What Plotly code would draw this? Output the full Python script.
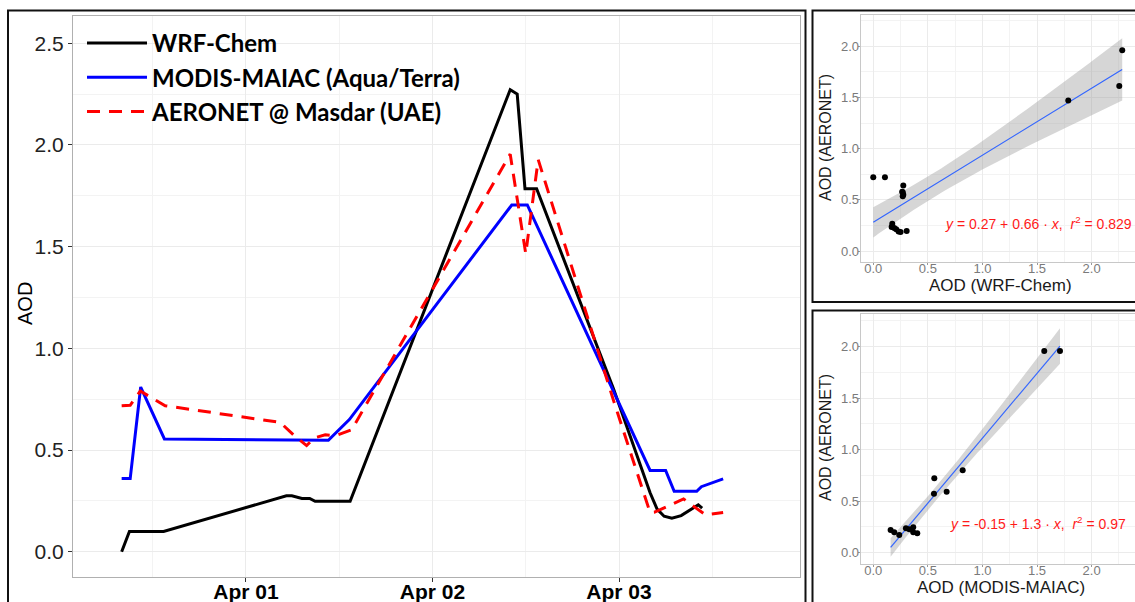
import numpy as np
import pandas as pd
import plotly.graph_objects as go

# ---------------- data ----------------
BASE = pd.Timestamp("2015-03-31 00:00")

wrf_hours = [8.0, 9.0, 13.4, 29.2, 29.9, 31.2, 32.2, 32.9, 37.4, 58.0, 58.9, 59.9, 61.4,
             71.3, 76.0, 76.9, 77.8, 78.8, 80.0, 82.2, 82.7]
wrf_aod = [0.0, 0.10, 0.10, 0.275, 0.275, 0.262, 0.262, 0.248, 0.248, 2.272, 2.250, 1.785, 1.785,
           0.80, 0.29, 0.21, 0.175, 0.165, 0.178, 0.231, 0.215]

modis_hours = [8.0, 9.1, 10.45, 13.5, 34.6, 37.3, 58.2, 60.2, 76.0, 78.0, 79.1, 82.0, 82.6, 85.4]
modis_aod = [0.36, 0.36, 0.81, 0.555, 0.548, 0.65, 1.705, 1.705, 0.40, 0.40, 0.297, 0.297, 0.32, 0.358]

aeronet_hours = [8.0, 9.1, 10.4, 13.6, 28.4, 30.1, 31.8, 32.8, 34.2, 35.5, 37.6, 58.0, 60.0, 61.6,
                 71.3, 76.0, 76.6, 80.3, 83.1, 85.4]
aeronet_aod = [0.718, 0.72, 0.79, 0.718, 0.636, 0.575, 0.522, 0.56, 0.575, 0.57, 0.60, 1.955, 1.465, 1.928,
               0.743, 0.193, 0.195, 0.26, 0.182, 0.193]

day_ticks = ["2015-04-01", "2015-04-02", "2015-04-03"]
day_labels = ["Apr 01", "Apr 02", "Apr 03"]

series_names = ["WRF-Chem", "MODIS-MAIAC (Aqua/Terra)", "AERONET @ Masdar (UAE)"]

# scatter 1: WRF-Chem (x) vs AERONET (y)
sc1_wrf = [0.0, 0.107, 0.275, 0.265, 0.27, 0.275, 0.27, 0.174, 0.168, 0.192, 0.21, 0.232, 0.25, 0.306,
           1.786, 2.253, 2.28]
sc1_aeronet = [0.72, 0.72, 0.64, 0.58, 0.575, 0.55, 0.535, 0.267, 0.234, 0.225, 0.212, 0.192, 0.186, 0.195,
               1.471, 1.611, 1.96]

# scatter 2: MODIS-MAIAC (x) vs AERONET (y)
sc2_modis = [0.159, 0.192, 0.238, 0.299, 0.33, 0.366, 0.366, 0.403, 0.556, 0.559, 0.672, 0.819, 1.566, 1.71]
sc2_aeronet = [0.22, 0.198, 0.172, 0.237, 0.227, 0.246, 0.198, 0.188, 0.573, 0.722, 0.592, 0.80, 1.958, 1.958]

eq1 = "<i>y</i> = 0.27 + 0.66 · <i>x</i>,  <i>r</i><sup>2</sup> = 0.829"
eq2 = "<i>y</i> = -0.15 + 1.3 · <i>x</i>,  <i>r</i><sup>2</sup> = 0.97"

# Student t 97.5% quantiles for the 95% confidence band (df = n - 2)
T975 = {12: 2.179, 15: 2.131}

# ---------------- helpers ----------------
W, H = 1135, 602


def px(x):
    return x / W


def py(y):
    return 1 - y / H


def lm_band(x, y, n=100):
    x = np.asarray(x, float)
    y = np.asarray(y, float)
    slope, icpt = np.polyfit(x, y, 1)
    xs = np.linspace(x.min(), x.max(), n)
    fit = icpt + slope * xs
    resid = y - (icpt + slope * x)
    df = len(x) - 2
    s = np.sqrt(np.sum(resid ** 2) / df)
    sxx = np.sum((x - x.mean()) ** 2)
    hw = T975[df] * s * np.sqrt(1 / len(x) + (xs - x.mean()) ** 2 / sxx)
    return xs, fit, fit - hw, fit + hw


def to_time(hours):
    return BASE + pd.to_timedelta(hours, unit="h")


fig = go.Figure()

# ---------------- main time series ----------------
fig.add_trace(go.Scatter(x=to_time(wrf_hours), y=wrf_aod, mode="lines", name=series_names[0],
                         line=dict(color="black", width=3), xaxis="x", yaxis="y"))
fig.add_trace(go.Scatter(x=to_time(modis_hours), y=modis_aod, mode="lines", name=series_names[1],
                         line=dict(color="#0000ff", width=3), xaxis="x", yaxis="y"))
fig.add_trace(go.Scatter(x=to_time(aeronet_hours), y=aeronet_aod, mode="lines", name=series_names[2],
                         line=dict(color="#ff0000", width=3, dash="13px,9px"), xaxis="x", yaxis="y"))

# ---------------- scatter panels ----------------
for xs_data, ys_data, xa, ya in [(sc1_wrf, sc1_aeronet, "x2", "y2"), (sc2_modis, sc2_aeronet, "x3", "y3")]:
    bx, bfit, blo, bhi = lm_band(xs_data, ys_data)
    fig.add_trace(go.Scatter(x=np.concatenate([bx, bx[::-1]]), y=np.concatenate([bhi, blo[::-1]]),
                             fill="toself", fillcolor="rgba(153,153,153,0.4)", line=dict(width=0),
                             mode="lines", showlegend=False, hoverinfo="skip", xaxis=xa, yaxis=ya))
    fig.add_trace(go.Scatter(x=bx, y=bfit, mode="lines", line=dict(color="#3366ff", width=1.2),
                             showlegend=False, xaxis=xa, yaxis=ya))
    fig.add_trace(go.Scatter(x=xs_data, y=ys_data, mode="markers",
                             marker=dict(color="black", size=6), showlegend=False, xaxis=xa, yaxis=ya))

# ---------------- layout ----------------
FONT = "Liberation Sans, Arial, sans-serif"
GRID = "#ebebeb"
MINOR = "#f3f3f3"
FRAME = "#b0b0b0"

main_x = dict(
    domain=[px(73), px(800)], anchor="y", type="date", automargin=False,
    range=[to_time(1.74), to_time(95.29)],
    tickmode="array", tickvals=[pd.Timestamp(d) for d in day_ticks], ticktext=day_labels,
    tickfont=dict(family=FONT, size=21, color="black", weight="bold"),
    ticklabelstandoff=-8,
    showgrid=True, gridcolor=GRID, gridwidth=1.3,
    minor=dict(dtick=43200000, tick0="2015-03-31 12:00", showgrid=True, gridcolor=MINOR, gridwidth=1),
    ticks="outside", ticklen=4, tickcolor="#333333",
    showline=True, mirror=True, linecolor=FRAME, linewidth=1, zeroline=False,
)
main_y = dict(
    domain=[py(577), py(16)], anchor="x", range=[-0.124, 2.634], automargin=False,
    tick0=0, dtick=0.5, tickformat=".1f",
    tickfont=dict(family=FONT, size=21, color="#222222"),
    showgrid=True, gridcolor=GRID, gridwidth=1.3,
    minor=dict(dtick=0.25, tick0=0, showgrid=True, gridcolor=MINOR, gridwidth=1),
    ticks="outside", ticklen=4, tickcolor="#333333",
    showline=True, mirror=True, linecolor=FRAME, linewidth=1, zeroline=False,
)


def sc_axis(domain, rng, anchor, standoff):
    return dict(
        domain=domain, anchor=anchor, range=rng, tick0=0, dtick=0.5, tickformat=".1f", automargin=False,
        tickfont=dict(family=FONT, size=13, color="#7a7a7a"),
        showgrid=True, gridcolor=GRID, gridwidth=1,
        minor=dict(dtick=0.25, tick0=0, showgrid=True, gridcolor=MINOR, gridwidth=0.6),
        ticks="outside", ticklen=2, tickcolor="#999999", ticklabelstandoff=standoff,
        showline=True, mirror=True, linecolor="#c8c8c8", linewidth=1, zeroline=False,
    )


fig.update_layout(
    width=W, height=H, margin=dict(l=0, r=0, t=0, b=0, autoexpand=False),
    paper_bgcolor="white", plot_bgcolor="white",
    xaxis=main_x, yaxis=main_y,
    xaxis2=sc_axis([px(860.7), 1.0], [-0.115, 2.397], "y2", -7),
    yaxis2=sc_axis([py(261.7), py(15)], [-0.104, 2.305], "x2", -4),
    xaxis3=sc_axis([px(860.7), 1.0], [-0.115, 2.397], "y3", -8),
    yaxis3=sc_axis([py(564.3), py(314)], [-0.113, 2.317], "x3", -4),
    legend=dict(x=px(82), y=py(21), xanchor="left", yanchor="top", bgcolor="rgba(0,0,0,0)",
                font=dict(family="Lato, sans-serif", size=24, color="black", weight="bold"),
                itemwidth=60, tracegroupgap=0),
    showlegend=True,
)

# panel frames
frame = dict(type="rect", xref="paper", yref="paper", line=dict(color="#111111", width=2), layer="above")
fig.add_shape(frame, x0=px(8), x1=px(805.5), y0=-0.05, y1=py(10.5))
fig.add_shape(frame, x0=px(812.5), x1=1.05, y0=py(302), y1=py(10.5))
fig.add_shape(frame, x0=px(812.5), x1=1.05, y0=-0.05, y1=py(310.5))

ann = dict(xref="paper", yref="paper", showarrow=False, xanchor="center", yanchor="middle")
fig.add_annotation(ann, x=px(25), y=py(304), text="AOD", textangle=-90,
                   font=dict(family=FONT, size=20, color="black"))
fig.add_annotation(ann, x=px(1000), y=py(285.7), text="AOD (WRF-Chem)",
                   font=dict(family=FONT, size=17, color="#1a1a1a"))
fig.add_annotation(ann, x=px(825), y=py(138), text="AOD (AERONET)", textangle=-90,
                   font=dict(family=FONT, size=16, color="#1a1a1a"))
fig.add_annotation(ann, x=px(1000.5), y=py(587.5), text="AOD (MODIS-MAIAC)",
                   font=dict(family=FONT, size=17, color="#1a1a1a"))
fig.add_annotation(ann, x=px(825), y=py(438), text="AOD (AERONET)", textangle=-90,
                   font=dict(family=FONT, size=16, color="#1a1a1a"))
fig.add_annotation(ann, x=px(1038), y=py(222.7), text=eq1,
                   font=dict(family=FONT, size=14, color="#ff1a1a"))
fig.add_annotation(ann, x=px(1037.5), y=py(523.3), text=eq2,
                   font=dict(family=FONT, size=14, color="#ff1a1a"))

fig.write_html("out.html", config={"displayModeBar": False},
               post_script="document.body.style.margin='0px';")
